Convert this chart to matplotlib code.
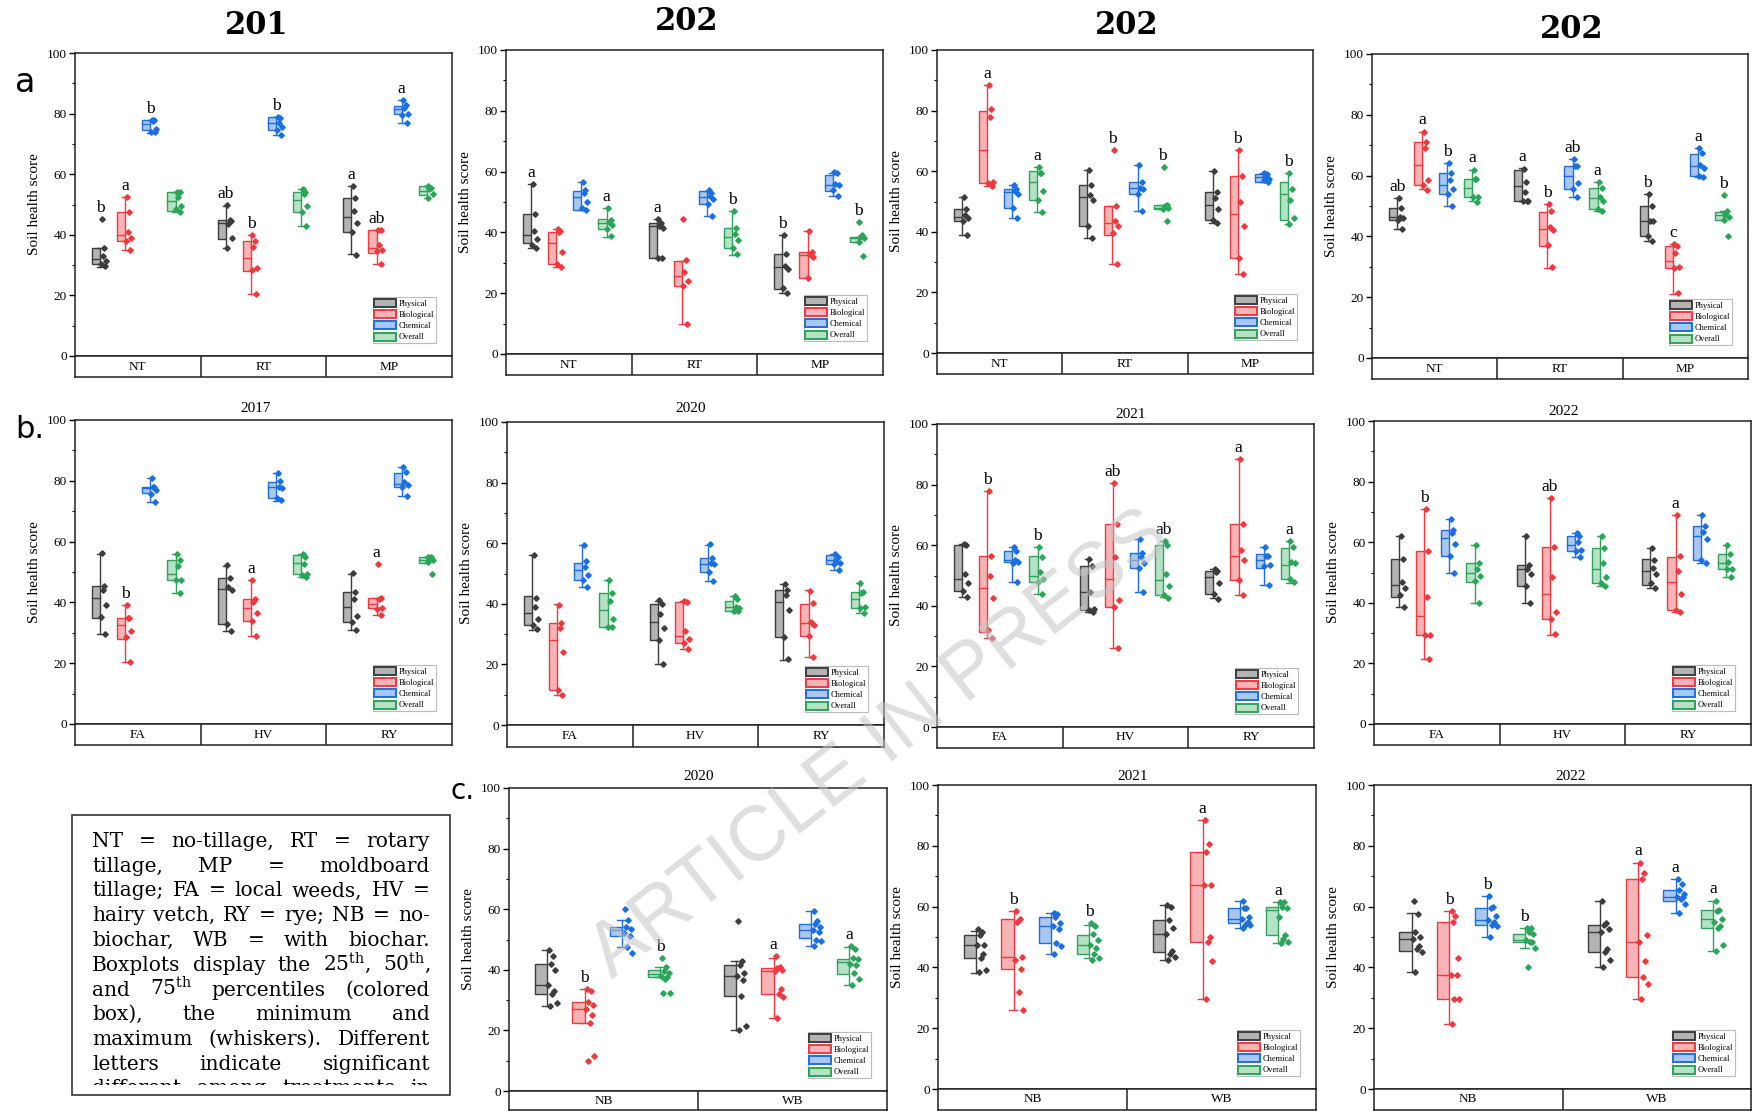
import matplotlib
matplotlib.use("Agg")
import matplotlib.pyplot as plt
from matplotlib.patches import Rectangle, Patch
from matplotlib.transforms import Bbox, TransformedBbox

W, H = 1753, 1111
plt.rcParams['font.family'] = ['Liberation Serif', 'DejaVu Serif']
plt.rcParams['mathtext.fontset'] = 'dejavuserif'

series = ["Physical", "Biological", "Chemical", "Overall"]
edge_colors = ["#3d3d3d", "#ee3a3f", "#1c6fe0", "#2ca45a"]
face_colors = ["#b3b3b3", "#f7b3b5", "#a9c7f0", "#b5e1c5"]

# ---------------- data: box stats [min, q1, median, q3, max], points, letters ----------------
a1_groups = ["NT", "RT", "MP"]
a1_box = [[29.5, 30.5, 32, 35.5, 35.5], [35, 38, 40, 47.5, 52.5], [73.5, 74.5, 76.5, 78, 78], [47.5, 48, 51, 54, 54],
          [35.5, 38.5, 44, 45, 49.5], [20.5, 28, 32.5, 38, 40], [73, 74.5, 77, 79, 79], [43, 47.5, 51.5, 54, 55],
          [33.5, 41, 46, 52, 56], [30.5, 34, 35.5, 41.5, 41.5], [77, 80, 81.5, 82.5, 84.5], [52, 53, 54.5, 56, 56]]
a1_pts = [[45.3, 35.5, 33, 31.2, 30.5, 29.8], [52.5, 47.5, 41, 39, 38, 35], [78, 78, 77.5, 75, 74, 73.8], [54, 54, 52.5, 49.5, 48.5, 47.5],
          [49.7, 45, 43.5, 39, 35.5, 44.5], [40, 38, 36, 29, 28.5, 20.5], [79, 78.5, 77, 75.5, 74.5, 72.8], [55, 54, 53.5, 49.5, 47.5, 43],
          [56, 52, 48, 44, 41, 33.2], [41.5, 41.5, 36.5, 35, 34.5, 30.3], [84.5, 83, 82, 80, 79.5, 77], [56, 55.5, 55, 53.5, 52]]
a1_letters = ["b", "a", "b", "", "ab", "b", "b", "", "a", "ab", "a", ""]

a2_groups = ["NT", "RT", "MP"]
a2_box = [[35, 36.5, 39, 46, 56], [28.5, 29.5, 36.5, 40, 41], [47.5, 47.5, 51.5, 53.5, 56.5], [38.5, 41, 43, 44.5, 48],
          [31.5, 31.5, 42, 43, 44.5], [10, 22.5, 25.5, 30.5, 30.5], [45.5, 49.5, 51.5, 53.5, 53.5], [32.5, 35, 38.5, 41.5, 47],
          [20, 21.5, 28.5, 33, 39], [25, 25, 32.5, 33.5, 40.5], [52, 53.5, 55.5, 59, 59.5], [37, 37, 38, 38.5, 38.5]]
a2_pts = [[56, 46, 40.5, 37.8, 36, 35], [41, 40.5, 40, 33.5, 29.5, 28.5], [56.5, 54, 53, 50, 48, 47.5], [48, 44, 43.5, 42.5, 41, 38.8],
          [44.5, 43, 42, 41.5, 31.7, 31.7], [44.3, 31, 27, 24, 22.5, 10], [54, 53, 52, 51, 49.5, 45.5], [47, 41.5, 39.5, 37.5, 35, 32.8],
          [39, 33, 29, 28, 21.8, 20], [40.5, 33.5, 33, 32, 25, 11.5], [60, 59.5, 56, 55.5, 54, 52], [43.5, 39, 38.5, 38, 37, 32.3]]
a2_letters = ["a", "", "", "a", "a", "", "", "b", "b", "", "", "b"]

a3_groups = ["NT", "RT", "MP"]
a3_box = [[39, 43.5, 45, 47.5, 51.5], [55, 56, 67, 80, 88.5], [44.5, 48, 53, 54, 55.5], [46.5, 50.5, 56.5, 60, 61.5],
          [38, 42, 51.5, 55.5, 60.5], [29.5, 39, 43, 48.5, 48.5], [47, 52.5, 54.5, 56.5, 62], [47.5, 47.5, 48, 49, 49],
          [43, 44, 49, 53, 60], [26, 31.5, 46, 58.5, 67], [56.5, 56.5, 58, 59, 59.5], [42.5, 44, 52.5, 56.5, 59.5]]
a3_pts = [[51.5, 47.5, 45.5, 44.5, 43.5, 38.8], [88.5, 80.5, 78, 56.5, 56, 55], [55.5, 54, 53.5, 52.5, 48, 44.5], [61.5, 59.5, 59.5, 53.5, 50.5, 46.5],
          [60.5, 55.5, 52, 50.5, 42, 38], [67, 48.5, 43.5, 42, 39.5, 29.5], [62, 56.5, 54.5, 54, 52.5, 47], [61.5, 49, 48.5, 48, 47.5, 43.5],
          [60, 53, 51, 47.5, 44, 43], [67, 58.5, 50, 42, 31.5, 26], [59.5, 59, 58.5, 57.5, 57, 56.5], [59.3, 54, 50.5, 44.5, 42.5]]
a3_letters = ["", "a", "", "a", "", "b", "", "b", "", "b", "", "b"]

a4_groups = ["NT", "RT", "MP"]
a4_box = [[42.5, 45.5, 46.5, 49.5, 52.5], [55.5, 57, 63.5, 71, 74.5], [50, 54, 57, 61, 64], [51.5, 53, 56, 59, 62],
          [51.5, 51.5, 56.5, 62, 62.5], [29.5, 37, 42.5, 48, 50.5], [53, 55.5, 60, 63, 65.5], [48.5, 49, 52.5, 56, 58],
          [38.5, 40, 45, 50, 54], [21, 29.5, 32, 37, 37.5], [59.5, 60, 63, 67, 69], [45.5, 45.5, 47, 48, 48.5]]
a4_pts = [[52.5, 49.5, 46.5, 46, 45.5, 42.5], [74.5, 71, 69, 58.5, 57, 55.3], [64, 61, 58.5, 55.5, 54, 50], [62, 59, 59, 53, 53, 51.3],
          [62.3, 58, 54.5, 51.5, 51.5, 51.5], [50.5, 48.5, 43, 42, 37.2, 29.8], [65.5, 63, 63, 57.5, 55.5, 53], [58, 56, 53, 51.5, 49, 48.5],
          [54, 50, 45, 45, 40, 38.5], [37.5, 37, 34.5, 30, 29.5, 21.5], [69, 67.5, 63.5, 62.5, 60, 59.5], [53.5, 48.5, 47.5, 46.5, 45.5, 40]]
a4_letters = ["ab", "a", "b", "a", "a", "b", "ab", "a", "b", "c", "a", "b"]

b1_groups = ["FA", "HV", "RY"]
b1_box = [[29.5, 35, 41.5, 45.5, 56], [20.5, 28, 32.5, 35, 39], [73, 76, 77.5, 78, 81], [43, 47.5, 49.5, 54, 56],
          [30.5, 33, 44.5, 48, 52], [29, 34, 38, 41, 47.5], [73.5, 74.5, 78, 79.5, 82.5], [48.5, 49.5, 53, 55.5, 56],
          [31, 33.5, 38.5, 43.5, 49.5], [36, 38, 39.5, 41.5, 41.5], [75, 78, 79, 82.5, 84.5], [53, 53, 54, 55, 55]]
b1_pts = [[56.3, 45.3, 44, 39, 35.2, 29.6], [39, 35, 35, 30.5, 28.5, 20.5], [81, 78, 78, 77, 75.5, 73], [56, 54, 52, 47.5, 47.5, 43],
          [52.3, 48, 45, 44, 33, 30.5], [47.5, 41, 40, 36.5, 34, 29], [82.5, 80, 78, 77.5, 74.5, 73.8], [56, 55, 52.5, 49.5, 49, 48.5],
          [49.8, 43.5, 41, 35.5, 33.5, 31], [52.5, 41.5, 41, 38, 37.8, 35.9], [84.5, 83, 79.5, 78.5, 78, 75], [55, 55, 54.5, 54, 53.2, 49.5]]
b1_letters = ["", "b", "", "", "", "a", "", "", "", "a", "", ""]

b2_groups = ["FA", "HV", "RY"]
b2_box = [[31.5, 33, 37, 42.5, 56], [10, 11.5, 28, 33.5, 40], [45.5, 48, 51, 53.5, 59.5], [32.5, 32.5, 38, 43.5, 48],
          [20, 28, 34, 40, 41], [25, 27, 29.5, 40.5, 41], [47.5, 50.5, 53, 55, 59.5], [37.5, 37.5, 39, 41, 42.5],
          [21.5, 29, 40.5, 44.5, 46.5], [22.5, 29.5, 33.5, 40, 44.5], [51, 53, 54.5, 56, 56.5], [37, 38.5, 41.5, 44, 47]]
b2_pts = [[56, 42, 39, 35, 33, 31.8], [39.6, 33.5, 32, 24, 11.5, 10], [59.5, 54, 52, 49.5, 48, 45.5], [47.9, 43.5, 41, 35, 32.5, 32.5],
          [41.3, 40, 36.5, 32, 28, 20], [41, 40.7, 31, 28.5, 27, 25], [59.7, 55, 53.5, 53, 50.5, 47.6], [42.6, 41.5, 39, 38.5, 37.5, 37.5],
          [46.5, 44.5, 43, 38, 29, 21.7], [44.3, 40.2, 34, 33, 29.5, 22.6], [56.5, 55.5, 54, 53.5, 53, 51], [47, 44, 43.5, 39, 38.5, 37]]
b2_letters = [""] * 12

b3_groups = ["FA", "HV", "RY"]
b3_box = [[43, 45, 49, 60, 60.5], [29.5, 31.5, 46, 56.5, 78], [48, 54.5, 55, 58, 59.5], [44, 48, 50, 56.5, 59.5],
          [38, 38.5, 44.5, 53, 55.5], [26, 39.5, 49, 67, 80.5], [44.5, 52.5, 55, 57.5, 62], [43, 43.5, 48.5, 60, 61.5],
          [42.5, 44, 49.5, 51.5, 52], [43.5, 48.5, 56.5, 67, 88.5], [47, 52.5, 55, 57, 59.5], [47.5, 49, 53.5, 59, 61.5]]
b3_pts = [[60.5, 60, 50.5, 47.5, 45, 43], [78, 56.5, 50, 42.5, 32, 29.5], [59.5, 58, 55, 54.5, 54, 48], [59.5, 56, 51, 49, 48, 44],
          [55.5, 53, 44.5, 39, 38.5, 38], [80.5, 67, 56, 42, 39.5, 26], [62, 57.5, 56, 54, 52.5, 44.5], [61.5, 60, 50.5, 46.5, 43.5, 42.5],
          [52.2, 51.5, 51, 47.5, 44, 42.2], [88.5, 67, 58.5, 55, 48.5, 43.5], [59.5, 56.5, 56.5, 53.5, 53, 47], [61.5, 59.3, 54.5, 54, 49, 47.7]]
b3_letters = ["", "b", "", "b", "", "ab", "", "ab", "", "a", "", "a"]

b4_groups = ["FA", "HV", "RY"]
b4_box = [[38.5, 42, 46, 54.5, 62], [21.5, 29.5, 35.5, 57, 71], [50, 55.5, 61.5, 64, 67.5], [40, 47, 50, 53, 59],
          [40, 45.5, 51, 52.5, 62], [29.5, 34.5, 43, 58.5, 74.5], [55, 57, 59, 62, 63], [45.5, 46.5, 51, 58, 62],
          [45, 46, 50.5, 54.5, 58], [37, 37.5, 47, 55, 69], [53, 54, 62, 65.5, 69], [48.5, 51, 53, 56, 59]]
b4_pts = [[62, 54.5, 47, 45, 42.5, 38.5], [71, 57, 42, 29.5, 29.5, 21.3], [67.5, 64, 63, 59.5, 55.5, 50], [59, 53, 51, 49, 47.3, 40],
          [62, 52.5, 51, 49.5, 45.5, 40], [74.5, 58.5, 48.5, 37, 34.5, 29.6], [63, 62, 60, 57.5, 57, 55.2], [62, 58, 53, 48.5, 46.5, 45.5],
          [58, 54, 51.5, 49.5, 46.5, 45], [69, 55.5, 50.5, 43, 37.5, 37], [69, 65.5, 63.5, 61, 54, 53], [59, 56, 53.5, 51, 51, 48.6]]
b4_letters = ["", "b", "", "", "", "ab", "", "", "", "a", "", ""]

c1_groups = ["NB", "WB"]
c1_box = [[28, 32, 35, 42, 46.5], [22.5, 22.5, 27, 29.5, 33.5], [47.5, 51, 53, 54, 56.5], [37.5, 37.5, 38.5, 40, 41],
          [20, 31.5, 38, 41.5, 43], [24, 32, 39.5, 40.5, 44], [48, 50.5, 53, 55, 59.5], [35, 38.5, 42.5, 43.5, 47.5]]
c1_pts = [[46.5, 44.5, 42, 40, 35, 33, 32, 29, 28], [33.5, 33, 29.5, 28.5, 27, 25, 22.5, 11.5, 10],
          [60, 56.5, 54, 53.5, 52, 51, 47.5, 45.5], [44, 41, 39.5, 39, 38, 37.5, 37, 32.5, 32.3],
          [56, 43, 41.5, 39, 38, 36.5, 31.5, 21.5, 20], [44.5, 41, 40.5, 40, 39.5, 33.5, 32, 31, 24],
          [59.5, 56, 55, 54, 53, 52.5, 50, 49.5, 48], [48, 47, 44, 43.5, 42, 41.5, 39, 37, 35]]
c1_letters = ["", "b", "", "b", "", "a", "", "a"]

c2_groups = ["NB", "WB"]
c2_box = [[38, 43, 47.5, 50.5, 52], [26, 39.5, 43.5, 56, 58.5], [44.5, 48, 53.5, 56.5, 58], [43, 44.5, 47.5, 50.5, 54],
          [42.5, 45, 51, 55.5, 60.5], [29.5, 48.5, 67, 78, 88.5], [53, 54.5, 56, 59.5, 62], [48, 50.5, 59, 60, 61.5]]
c2_pts = [[52.5, 51.5, 50.5, 47.5, 47.5, 44.5, 43, 39, 38.5], [58.5, 56, 55, 43.5, 42.5, 39.5, 32, 26],
          [58, 57.5, 56.5, 54.5, 53.5, 52.5, 48, 47, 44.5], [54.5, 53.5, 51, 49, 47.5, 46.5, 44.5, 43, 42.5],
          [60.5, 60, 55.5, 53, 51, 45.5, 44.5, 43.5, 42.5], [88.5, 80.5, 78, 67, 67, 50, 48.5, 42, 29.5],
          [62, 59.5, 59.5, 56.5, 56, 55, 54, 54, 53], [61.5, 61.5, 60, 59.5, 56.5, 50.5, 49.5, 48.5, 48]]
c2_letters = ["", "b", "", "b", "", "a", "", "a"]

c3_groups = ["NB", "WB"]
c3_box = [[38.5, 45.5, 49.5, 51.5, 58], [21.5, 29.5, 37.5, 55, 58.5], [50, 54, 55.5, 59.5, 63.5], [46.5, 48.5, 49, 51, 53],
          [40, 45, 51.5, 54, 62], [29.5, 37, 48.5, 69, 74.5], [58, 62, 63, 65.5, 69], [45.5, 53, 56, 59, 62]]
c3_pts = [[62, 57.5, 51.5, 50, 49.5, 47, 46, 45, 38.5], [58.5, 57, 55, 43, 37.5, 37.5, 29.5, 29.5, 21.5],
          [63.5, 60, 59.5, 57, 55.5, 55, 54, 53.5, 50], [53, 53, 51.5, 51, 49, 48.5, 48.5, 46.5, 40],
          [62, 54.5, 54, 52.5, 51.5, 46, 45, 42.5, 40], [74.5, 71, 69, 50.5, 48.5, 42, 37, 34.5, 29.5],
          [69, 67.5, 65.5, 64, 63, 63, 62.5, 61, 58], [62, 59, 58.5, 56, 55, 53.5, 53, 47.5, 45.5]]
c3_letters = ["", "b", "b", "b", "", "a", "a", "a"]

top_titles = ["201", "202", "202", "202"]
sub_titles = ["2017", "2020", "2021", "2022", "2020", "2021", "2022"]

note_lines = [
    "NT = no-tillage, RT = rotary",
    "tillage, MP = moldboard",
    "tillage; FA = local weeds, HV =",
    "hairy vetch, RY = rye; NB = no-",
    "biochar, WB = with biochar.",
    r"Boxplots display the 25$^{\mathrm{th}}$, 50$^{\mathrm{th}}$,",
    r"and 75$^{\mathrm{th}}$ percentiles (colored",
    "box), the minimum and",
    "maximum (whiskers). Different",
    "letters indicate significant",
    "different among treatments in",
]

# ---------------- layout (pixels: left, top, right, axis-bottom, strip-bottom) ----------------
fig = plt.figure(figsize=(W / 100, H / 100), dpi=100)

panels = [
    (a1_groups, a1_box, a1_pts, a1_letters, (75, 53, 452, 356, 377)),
    (a2_groups, a2_box, a2_pts, a2_letters, (506, 50, 883, 354, 375)),
    (a3_groups, a3_box, a3_pts, a3_letters, (937, 50, 1313, 353, 374)),
    (a4_groups, a4_box, a4_pts, a4_letters, (1372, 54, 1748, 358, 379)),
    (b1_groups, b1_box, b1_pts, b1_letters, (75, 420, 452, 724, 745)),
    (b2_groups, b2_box, b2_pts, b2_letters, (507, 422, 884, 725, 747)),
    (b3_groups, b3_box, b3_pts, b3_letters, (937, 424, 1314, 727, 748)),
    (b4_groups, b4_box, b4_pts, b4_letters, (1374, 421, 1751, 724, 745)),
    (c1_groups, c1_box, c1_pts, c1_letters, (509, 788, 887, 1091, 1110)),
    (c2_groups, c2_box, c2_pts, c2_letters, (938, 785, 1316, 1089, 1110)),
    (c3_groups, c3_box, c3_pts, c3_letters, (1374, 785, 1751, 1089, 1110)),
]

jitter = [0.012, 0.032, 0.020, 0.046, 0.006, 0.038, 0.026, 0.052, 0.016]
BW = 0.065


def frac_rect(l, t, r, b):
    return [l / W, 1 - b / H, (r - l) / W, (b - t) / H]


for groups, box, pts, letters, (l, t, r, b, sb) in panels:
    ax = fig.add_axes(frac_rect(l, t, r, b))
    n = len(groups)
    for gi in range(n):
        for k in range(4):
            idx = gi * 4 + k
            lo, q1, med, q3, hi = box[idx]
            ec, fc = edge_colors[k], face_colors[k]
            xw = gi - 0.5 + 0.2 * (k + 1)
            ax.add_patch(Rectangle((xw - BW, q1), BW, q3 - q1, facecolor=fc,
                                   edgecolor=ec, lw=1.0, zorder=2))
            ax.plot([xw - BW, xw], [med, med], color=ec, lw=1.0, zorder=3)
            ax.plot([xw, xw], [lo, q1], color=ec, lw=1.0, zorder=2)
            ax.plot([xw, xw], [q3, hi], color=ec, lw=1.0, zorder=2)
            ax.plot([xw - 0.026, xw + 0.02], [lo, lo], color=ec, lw=1.0, zorder=2)
            ax.plot([xw - 0.026, xw + 0.02], [hi, hi], color=ec, lw=1.0, zorder=2)
            p = pts[idx]
            ax.plot([xw + jitter[j % len(jitter)] for j in range(len(p))], p, 'D',
                    ms=2.8, color=ec, mec=ec, zorder=4, lw=0)
            if letters[idx]:
                top = max([hi] + list(p))
                ax.text(xw, top + 1.0, letters[idx], ha='center', va='bottom',
                        fontsize=12.5, color='black', zorder=5)
    ax.set_xlim(-0.5, n - 0.5)
    ax.set_ylim(0, 100)
    ax.set_xticks([])
    ax.set_yticks(range(0, 101, 20))
    ax.set_yticks(range(10, 100, 20), minor=True)
    ax.tick_params(axis='y', which='major', direction='out', length=4, width=1, labelsize=9.5, pad=2)
    ax.tick_params(axis='y', which='minor', direction='out', length=2.5, width=0.8)
    for s in ax.spines.values():
        s.set_linewidth(1.1)
        s.set_color('#222222')
    ax.set_ylabel("Soil health score", fontsize=11, labelpad=4)
    handles = [Patch(facecolor=face_colors[k], edgecolor=edge_colors[k], lw=1.4) for k in range(4)]
    leg = ax.legend(handles, series, loc='lower right',
                    bbox_to_anchor=(1 - 16 / (r - l), 13 / (b - t)), borderaxespad=0,
                    fontsize=6.0, handlelength=2.6, handleheight=1.1, labelspacing=0.28,
                    handletextpad=0.35, borderpad=0.2, fancybox=False, framealpha=1,
                    edgecolor='#bbbbbb')
    leg.get_frame().set_linewidth(0.8)

    sax = fig.add_axes(frac_rect(l, b, r, sb))
    sax.set_xlim(-0.5, n - 0.5)
    sax.set_ylim(0, 1)
    sax.set_xticks([])
    sax.set_yticks([])
    for s in sax.spines.values():
        s.set_linewidth(1.1)
        s.set_color('#222222')
    for gi in range(1, n):
        sax.axvline(gi - 0.5, color='#222222', lw=1.1)
    for gi, g in enumerate(groups):
        sax.text(gi, 0.5, g, ha='center', va='center', fontsize=9.5)

# titles
for txt, (x, y) in zip(top_titles, [(257, 25), (687, 22), (1127, 25), (1572, 30)]):
    fig.text(x / W, 1 - y / H, txt, ha='center', va='center', fontsize=22,
             fontweight='bold', family='DejaVu Serif')
for txt, (x, y) in zip(sub_titles, [(256, 408), (691, 409), (1131, 414), (1564, 412),
                                    (699, 777), (1133, 776), (1571, 777)]):
    fig.text(x / W, 1 - y / H, txt, ha='center', va='center', fontsize=11)

fig.text(25 / W, 1 - 83 / H, "a", ha='center', va='center', fontsize=24, family='DejaVu Sans')
fig.text(30 / W, 1 - 430 / H, "b.", ha='center', va='center', fontsize=22, family='DejaVu Sans')
fig.text(463 / W, 1 - 791 / H, "c.", ha='center', va='center', fontsize=20, family='DejaVu Sans')

# note box
fig.add_artist(Rectangle((72 / W, 1 - 1095 / H), (450 - 72) / W, (1095 - 815) / H,
                         transform=fig.transFigure, fill=False, edgecolor='#333333', lw=1.2))
renderer = fig.canvas.get_renderer()
clip = TransformedBbox(Bbox.from_extents(72 / W, 1 - 1085 / H, 450 / W, 1 - 815 / H), fig.transFigure)
x0, x1 = 92, 430
for i, line in enumerate(note_lines):
    words = line.split(" ")
    yb = 1 - (847 + i * 24.75) / H
    texts = [fig.text(0, yb, w, fontsize=14.5, family='DejaVu Serif', va='baseline', ha='left')
             for w in words]
    widths = [tt.get_window_extent(renderer).width for tt in texts]
    gap = (x1 - x0 - sum(widths)) / max(len(words) - 1, 1)
    x = x0
    for tt, wd in zip(texts, widths):
        tt.set_x(x / W)
        tt.set_clip_box(clip)
        tt.set_clip_on(True)
        x += wd + gap

# watermark
fig.text(880 / W, 1 - 745 / H, "ARTICLE IN PRESS", rotation=38, rotation_mode='anchor',
         ha='center', va='center', fontsize=56, color='#c4c4c4', alpha=0.55,
         family='Liberation Sans', zorder=20)

fig.savefig("out.png", dpi=100)
